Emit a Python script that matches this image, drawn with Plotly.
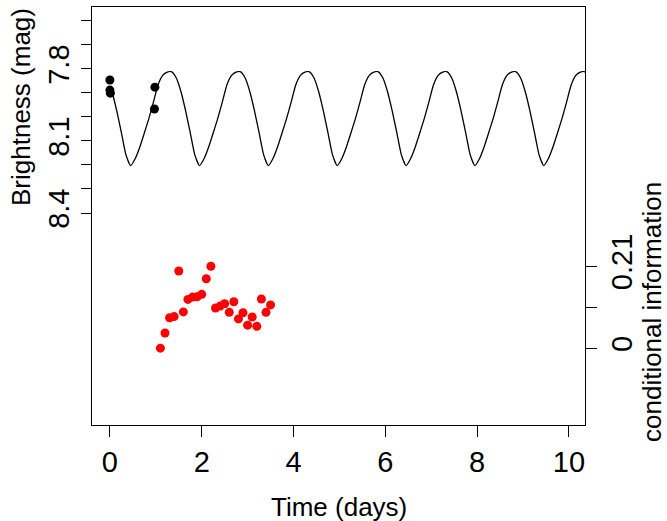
import plotly.graph_objects as go

# ---- data ----
# model light curve (black line), sampled every 0.1 day starting at t = 0.05
curve_time = [round(0.05 + 0.1 * i, 2) for i in range(105)]
curve_mag = [
    7.896, 7.975, 8.065, 8.158, 8.203, 8.174, 8.126, 8.067, 8.006, 7.937, 7.866, 7.827, 7.813, 7.812, 7.839,
    7.896, 7.975, 8.065, 8.158, 8.203, 8.174, 8.126, 8.067, 8.006, 7.937, 7.866, 7.827, 7.813, 7.812, 7.839,
    7.896, 7.975, 8.065, 8.158, 8.203, 8.174, 8.126, 8.067, 8.006, 7.937, 7.866, 7.827, 7.813, 7.812, 7.839,
    7.896, 7.975, 8.065, 8.158, 8.203, 8.174, 8.126, 8.067, 8.006, 7.937, 7.866, 7.827, 7.813, 7.812, 7.839,
    7.896, 7.975, 8.065, 8.158, 8.203, 8.174, 8.126, 8.067, 8.006, 7.937, 7.866, 7.827, 7.813, 7.812, 7.839,
    7.896, 7.975, 8.065, 8.158, 8.203, 8.174, 8.126, 8.067, 8.006, 7.937, 7.866, 7.827, 7.813, 7.812, 7.839,
    7.896, 7.975, 8.065, 8.158, 8.203, 8.174, 8.126, 8.067, 8.006, 7.937, 7.866, 7.827, 7.813, 7.812, 7.839,
]

# observed brightness (black points)
obs_time = [0.0, 0.0, 0.01, 0.98, 0.97]
obs_mag = [7.846, 7.888, 7.901, 7.876, 7.967]

# conditional information (red points)
info_time = [1.1, 1.2, 1.3, 1.4, 1.5, 1.6, 1.7, 1.8, 1.9, 2.0, 2.1, 2.2, 2.3,
             2.4, 2.5, 2.6, 2.7, 2.8, 2.9, 3.0, 3.1, 3.2, 3.3, 3.4, 3.5]
info_val = [0.000, 0.039, 0.078, 0.081, 0.198, 0.093, 0.125, 0.131, 0.132, 0.138,
            0.178, 0.210, 0.103, 0.108, 0.114, 0.092, 0.119, 0.075, 0.091, 0.059,
            0.080, 0.056, 0.126, 0.092, 0.111]

# tick labels
x_ticks = [0, 2, 4, 6, 8, 10]
mag_ticks = [7.6, 7.7, 7.8, 7.9, 8.0, 8.1, 8.2, 8.3, 8.4]
mag_labels = ["", "", "7.8", "", "", "8.1", "", "", "8.4"]
info_ticks = [0, 0.105, 0.21]
info_labels = ["0", "", "0.21"]

FONT = "Liberation Sans, Arial, Helvetica, sans-serif"
TICKSIZE = 29
TITLESIZE = 26

fig = go.Figure()
fig.add_trace(go.Scatter(x=curve_time, y=curve_mag, mode="lines",
                         line=dict(color="black", width=1.3, shape="spline", smoothing=0.5),
                         showlegend=False, hoverinfo="skip"))
fig.add_trace(go.Scatter(x=obs_time, y=obs_mag, mode="markers",
                         marker=dict(color="black", size=9), showlegend=False))
fig.add_trace(go.Scatter(x=info_time, y=info_val, mode="markers", yaxis="y2",
                         marker=dict(color="#ff0000", size=9), showlegend=False))

fig.update_layout(
    width=667, height=521,
    margin=dict(l=92, r=82, t=7, b=96, autoexpand=False),
    paper_bgcolor="white", plot_bgcolor="white",
    font=dict(family=FONT, color="black"),
    xaxis=dict(range=[-0.39, 10.35], tickvals=x_ticks, ticktext=[str(v) for v in x_ticks],
               ticks="outside", ticklen=11, tickwidth=1, tickcolor="black",
               showgrid=False, zeroline=False, showline=True, linecolor="black",
               linewidth=1, mirror=True, tickfont=dict(size=TICKSIZE, family=FONT)),
    yaxis=dict(range=[9.283, 7.542], tickvals=mag_ticks, ticktext=mag_labels,
               ticks="outside", ticklen=10, tickwidth=1, tickcolor="black", tickangle=-90,
               showgrid=False, zeroline=False, showline=True, linecolor="black",
               linewidth=1, mirror=True, tickfont=dict(size=TICKSIZE, family=FONT)),
    yaxis2=dict(range=[-0.197, 0.875], overlaying="y", side="right",
                tickvals=info_ticks, ticktext=info_labels,
                ticks="outside", ticklen=11, tickwidth=1, tickcolor="black", tickangle=-90,
                showgrid=False, zeroline=False, showline=False,
                tickfont=dict(size=TICKSIZE, family=FONT)),
    annotations=[
        dict(text="Time (days)", xref="paper", yref="paper", x=0.5, y=-82 / 418,
             xanchor="center", yanchor="middle", showarrow=False,
             font=dict(size=TITLESIZE, family=FONT)),
        dict(text="Brightness (mag)", xref="paper", yref="paper", x=-71 / 493, y=(425 - 107) / 418,
             xanchor="center", yanchor="middle", textangle=-90, showarrow=False,
             font=dict(size=TITLESIZE, family=FONT)),
        dict(text="conditional information", xref="paper", yref="paper", x=(652 - 92) / 493,
             y=(425 - 312) / 418, xanchor="center", yanchor="middle", textangle=-90,
             showarrow=False, font=dict(size=TITLESIZE, family=FONT)),
    ],
)

fig.write_html("out.html", config={"displayModeBar": False},
               post_script="document.body.style.margin='0';")
